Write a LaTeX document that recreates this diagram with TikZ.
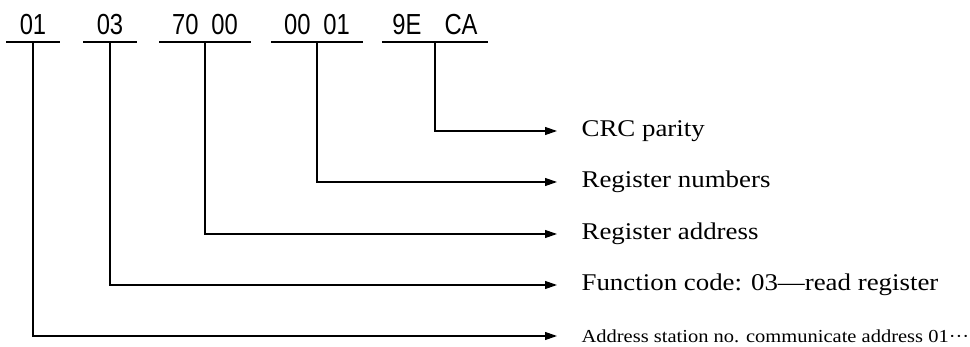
\documentclass[tikz,border=0pt]{standalone}
\usepackage{fontspec}
\setmainfont{Liberation Serif}
\newfontfamily\codefont[FakeStretch=0.82]{Liberation Sans}
\newfontfamily\notefont[FakeStretch=1.12]{Liberation Serif}
\usetikzlibrary{arrows.meta}

\begin{document}
\begin{tikzpicture}[x=1pt,y=-1pt,line width=1.2pt,>={Triangle[length=12pt,width=8pt]},
  bytes/.style={anchor=south,inner xsep=0pt,inner ysep=7pt,text depth=0pt,font=\codefont\fontsize{29}{29}\selectfont},
  meaning/.style={anchor=west,inner sep=0pt,font=\notefont\fontsize{24}{24}\selectfont}]
\useasboundingbox (0,0) rectangle (970,347);
% the frame bytes, each underlined
\foreach \i/\x/\w/\t in {1/33/52/01,2/110/52/03,3/205/90/70\hspace{13pt}00,4/317/90/00\hspace{13pt}01,5/435/105/9E\hspace{23pt}CA}{
 \node[bytes,minimum width=\w pt] (b\i) at (\x,42) {\t};
 \draw (b\i.south west)--(b\i.south east);
}
% what each field means
\node[meaning] (m5) at (581,131) {CRC parity};
\node[meaning] (m4) at (581,182) {Register numbers};
\node[meaning] (m3) at (581,234) {Register address};
\node[meaning] (m2) at (581,285) {Function code: 03—read register};
\node[meaning,font=\notefont\fontsize{18.3}{18.3}\selectfont] (m1) at (581,336) {Address station no. communicate address 01···};
\foreach \i in {1,...,5}{
 \draw[->] (b\i.south) |- ([xshift=-24pt]m\i.west);
}
\end{tikzpicture}
\end{document}
